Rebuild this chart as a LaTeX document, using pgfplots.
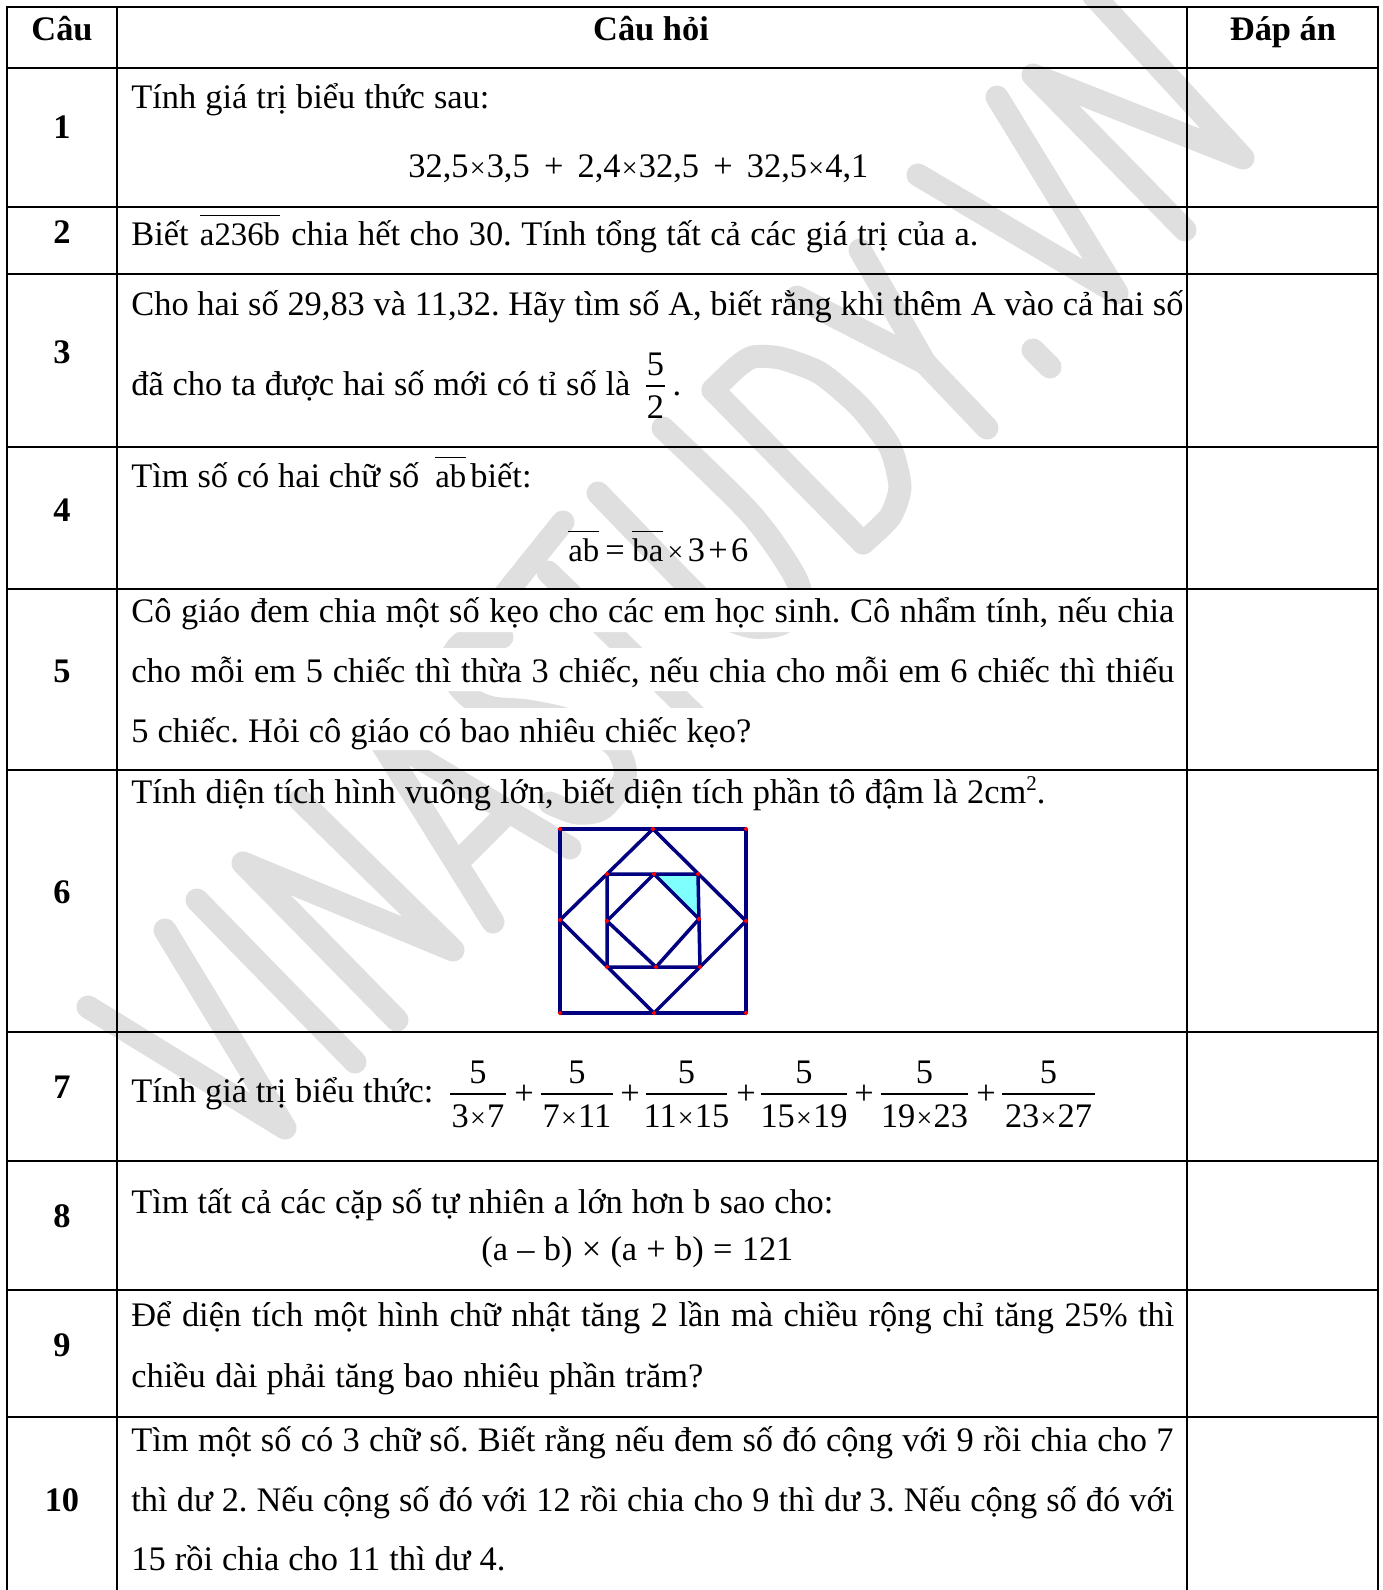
\documentclass[border=0pt]{standalone}
\usepackage{fontspec}
\setmainfont{Liberation Serif}
\usepackage{pgfplots}
\pgfplotsset{compat=1.18}
\definecolor{wm}{HTML}{DFDFDF}
\definecolor{geo}{HTML}{000080}
\definecolor{shade}{HTML}{80FFFF}
% 1 px of the page = 0.5pt, axis units are pixels with y going down
\newcommand\tl[4]{\node[anchor=base west,inner sep=0pt] at (axis cs:#1,#3) {\spaceskip=0.25em plus 2em minus 0.12em\hbox to \dimexpr(#2pt-#1pt)/2\relax{#4}};}
\newcommand\nm[3]{\node[anchor=base,inner sep=0pt,font=\bfseries] at (axis cs:#1,#2) {#3};}
\newcommand\ol[1]{\leavevmode\setbox0\hbox{\fontsize{16.4}{20}\selectfont #1}\rlap{\rule[15pt]{\wd0}{0.6pt}}\box0 }
\newcommand\tm{{\fontsize{14}{14}\selectfont\kern0.6pt×\kern0.6pt}}
\newcommand\frc[3]{% x1,x2,denominator for the row 7 sum
  \addplot[black,line width=0.6pt] coordinates {(#1,1094) (#2,1094)};
  \node[anchor=base,inner sep=0pt] at (axis cs:{(#1+#2)/2},1083) {5};
  \node[anchor=base,inner sep=0pt] at (axis cs:{(#1+#2)/2},1127) {#3};}
\begin{document}
\frenchspacing
\fontsize{17.2}{21}\selectfont
\begin{tikzpicture}[every node/.append style={yshift=-0.4pt}]
\begin{axis}[
  scale only axis, width=691pt, height=795pt,
  xmin=0, xmax=1382, ymin=0, ymax=1590, y dir=reverse,
  hide axis, clip=true,
  every axis plot/.append style={no markers},
]
% page
\addplot[fill=white,draw=none] coordinates {(0,0) (1382,0) (1382,1590) (0,1590) (0,0)};
% watermark
\pgfplotsset{wmk/.style={wm,line width=11.5pt,line cap=round,line join=round}}
\addplot[wmk] coordinates {(88,1007) (285,1128) (165,930)};
\addplot[wmk] coordinates {(197,900) (355,1062)};
\addplot[wmk] coordinates {(397,1020) (243,863) (453,950) (300,800)};
\addplot[wmk] coordinates {(493,922) (374,731) (570,848)};
\addplot[wmk] coordinates {(464,856) (503,817)};
\addplot[wmk,smooth] coordinates {(502,637) (467,640) (452,657) (456,682) (473,700) (493,708) (527,711) (565,719) (597,733) (618,750) (625,777) (603,808) (577,813) (550,803)};
\addplot[wmk] coordinates {(563,522) (490,613)};
\addplot[wmk] coordinates {(548,572) (710,730)};
\addplot[wmk,smooth] coordinates {(598,493) (692,590) (720,615) (753,627) (783,623) (800,600) (793,573) (750,513) (663,428)};
\addplot[wmk,smooth,tension=0.4] coordinates {(713,390) (737,367) (753,357) (780,358) (820,373) (860,407) (890,447) (900,487) (890,517) (863,543)};
\addplot[wmk] coordinates {(863,543) (713,390)};
\addplot[wmk] coordinates {(797,297) (925,363) (860,250)};
\addplot[wmk] coordinates {(925,363) (987,428)};
\addplot[wmk] coordinates {(1033,350) (1050,367)};
\addplot[wmk] coordinates {(918,175) (1117,293) (997,97)};
\addplot[wmk] coordinates {(1185,230) (1033,75) (1243,158) (1093,-5)};
% white bands behind the lines of row 5
\addplot[fill=white,draw=none] coordinates {(119,590) (1186,590) (1186,632) (119,632) (119,590)};
\addplot[fill=white,draw=none] coordinates {(119,648) (1186,648) (1186,691) (119,691) (119,648)};
\addplot[fill=white,draw=none] coordinates {(119,708) (1186,708) (1186,750) (119,750) (119,708)};
% table rules
\pgfplotsset{rule/.style={black,line width=1.25pt}}
\addplot[rule] coordinates {(7,7) (1378,7)};
\addplot[rule] coordinates {(7,68) (1378,68)};
\addplot[rule] coordinates {(7,207) (1378,207)};
\addplot[rule] coordinates {(7,274) (1378,274)};
\addplot[rule] coordinates {(7,447) (1378,447)};
\addplot[rule] coordinates {(7,589) (1378,589)};
\addplot[rule] coordinates {(7,770) (1378,770)};
\addplot[rule] coordinates {(7,1032) (1378,1032)};
\addplot[rule] coordinates {(7,1161) (1378,1161)};
\addplot[rule] coordinates {(7,1290) (1378,1290)};
\addplot[rule] coordinates {(7,1417) (1378,1417)};
\addplot[rule] coordinates {(7,6) (7,1590)};
\addplot[rule] coordinates {(117,6) (117,1590)};
\addplot[rule] coordinates {(1187,6) (1187,1590)};
\addplot[rule] coordinates {(1378,6) (1378,1590)};
% figure of row 6
\addplot[fill=shade,draw=none] coordinates {(654,874) (698,874) (699,919) (654,874)};
\pgfplotsset{fig/.style={geo,line width=1.75pt,line join=round}}
\addplot[fig] coordinates {(560,829) (746,829) (746,1013) (560,1013) (560,829)};
\addplot[fig] coordinates {(653,829) (746,921) (654,1013) (560,920) (653,829)};
\addplot[fig] coordinates {(607,874) (698,874) (700,967) (607,967) (607,874)};
\addplot[fig] coordinates {(654,874) (699,919) (656,967) (607,921) (654,874)};
\addplot[only marks,mark=*,mark size=0.9pt,red] coordinates {(560,829) (653,829) (746,829) (746,921) (746,1013) (654,1013) (560,1013) (560,920) (607,874) (654,874) (698,874) (699,919) (700,967) (656,967) (607,967) (607,921)};
% header
\node[anchor=base,inner sep=0pt,font=\bfseries] at (axis cs:62,40) {Câu};
\node[anchor=base,inner sep=0pt,font=\bfseries] at (axis cs:651,40) {Câu hỏi};
\node[anchor=base,inner sep=0pt,font=\bfseries] at (axis cs:1283,40) {Đáp án};
% question numbers
\nm{62}{138}{1}
\nm{62}{243}{2}
\nm{62}{363}{3}
\nm{62}{521}{4}
\nm{62}{682}{5}
\nm{62}{903}{6}
\nm{62}{1098}{7}
\nm{62}{1227}{8}
\nm{62}{1356}{9}
\nm{62}{1511}{10}
% row 1
\tl{131}{489}{108}{Tính giá trị biểu thức sau:}
\tl{408}{868}{177}{32,5\tm3,5 + 2,4\tm32,5 + 32,5\tm4,1}
% row 2
\tl{131}{978}{245}{Biết\hspace{0.05em} \ol{a236b}\hspace{0.05em} chia hết cho 30. Tính tổng tất cả các giá trị của a.}
% row 3
\tl{131}{1183}{315}{Cho hai số 29,83 và 11,32. Hãy tìm số A, biết rằng khi thêm A vào cả hai số}
\tl{131}{630}{395}{đã cho ta được hai số mới có tỉ số là}
\addplot[black,line width=0.6pt] coordinates {(646,386) (665,386)};
\node[anchor=base,inner sep=0pt] at (axis cs:655.5,375) {5};
\node[anchor=base,inner sep=0pt] at (axis cs:655.5,418) {2};
\node[anchor=base,inner sep=0pt] at (axis cs:677,395) {.};
% row 4
\tl{131}{419}{487}{Tìm số có hai chữ số}
\tl{435}{463}{487}{\ol{ab}}
\tl{470}{528}{487}{biết:}
\tl{568}{597}{561}{\ol{ab}}
\node[anchor=base,inner sep=0pt] at (axis cs:615,561) {=};
\tl{632}{662}{561}{\ol{ba}}
\tl{666}{748}{561}{\tm\hfil 3\hfil +\hfil 6}
% row 5
\tl{131}{1174}{622}{Cô giáo đem chia một số kẹo cho các em học sinh. Cô nhẩm tính, nếu chia}
\tl{131}{1174}{682}{cho mỗi em 5 chiếc thì thừa 3 chiếc, nếu chia cho mỗi em 6 chiếc thì thiếu}
\tl{131}{751}{742}{5 chiếc. Hỏi cô giáo có bao nhiêu chiếc kẹo?}
% row 6
\tl{131}{1045}{803}{Tính diện tích hình vuông lớn, biết diện tích phần tô đậm là 2cm\raisebox{6.5pt}{\fontsize{10.5}{10.5}\selectfont 2}.}
% row 7
\tl{131}{433}{1102}{Tính giá trị biểu thức:}
\frc{450}{506}{3\tm7}
\frc{541}{613}{7\tm11}
\frc{646}{727}{11\tm15}
\frc{761}{847}{15\tm19}
\frc{881}{968}{19\tm23}
\frc{1002}{1095}{23\tm27}
\node[anchor=center,inner sep=0pt] at (axis cs:524,1094) {+};
\node[anchor=center,inner sep=0pt] at (axis cs:630,1094) {+};
\node[anchor=center,inner sep=0pt] at (axis cs:746,1094) {+};
\node[anchor=center,inner sep=0pt] at (axis cs:864,1094) {+};
\node[anchor=center,inner sep=0pt] at (axis cs:986,1094) {+};
% row 8
\tl{131}{833}{1213}{Tìm tất cả các cặp số tự nhiên a lớn hơn b sao cho:}
\tl{481}{793}{1260}{(a – b) × (a + b) = 121}
% row 9
\tl{131}{1174}{1326}{Để diện tích một hình chữ nhật tăng 2 lần mà chiều rộng chỉ tăng 25\% thì}
\tl{131}{703}{1387}{chiều dài phải tăng bao nhiêu phần trăm?}
% row 10
\tl{131}{1173}{1451}{Tìm một số có 3 chữ số. Biết rằng nếu đem số đó cộng với 9 rồi chia cho 7}
\tl{131}{1174}{1511}{thì dư 2. Nếu cộng số đó với 12 rồi chia cho 9 thì dư 3. Nếu cộng số đó với}
\tl{131}{505}{1570}{15 rồi chia cho 11 thì dư 4.}
\end{axis}
\end{tikzpicture}
\end{document}
